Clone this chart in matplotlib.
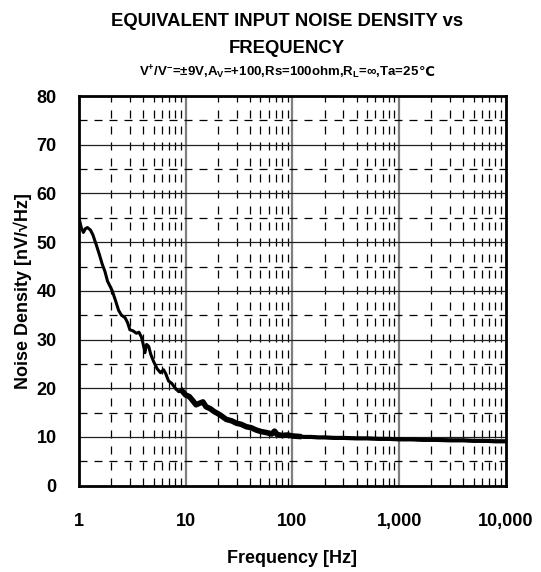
import numpy as np
import matplotlib.pyplot as plt
from matplotlib.ticker import FixedLocator, FuncFormatter, NullFormatter

plt.rcParams['font.family'] = ['Liberation Sans', 'DejaVu Sans']
plt.rcParams['font.weight'] = 'bold'
plt.rcParams['mathtext.fontset'] = 'custom'
plt.rcParams['mathtext.rm'] = 'Liberation Sans:bold'
plt.rcParams['mathtext.it'] = 'Liberation Sans:bold'
plt.rcParams['mathtext.bf'] = 'Liberation Sans:bold'

# curve
freq = [1.0, 1.05, 1.1, 1.15, 1.2, 1.28, 1.35, 1.45, 1.55, 1.65, 1.75, 1.85,
        1.95, 2.05, 2.2, 2.35, 2.5, 2.7, 2.85, 3.0, 3.2, 3.45, 3.65, 3.85,
        4.0, 4.15, 4.3, 4.5, 4.7, 5.0, 5.4, 5.8, 6.2, 6.5, 6.9, 7.4, 8.0,
        8.6, 9.2, 10, 10.8, 11.6, 12.5, 13.4, 14.5, 15.5, 17, 18.5, 20, 22,
        24, 27, 30, 33, 37, 41, 46, 51, 57, 64, 68, 72, 80, 90, 100, 115, 130,
        150, 175, 200, 250, 300, 400, 500, 650, 800, 1000, 1300, 1700, 2200,
        3000, 4000, 5000, 6500, 8000, 10000]
noise = [55.0, 53.0, 52.0, 52.8, 53.0, 52.5, 51.5, 49.5, 47.5, 45.5, 44.0, 42.0,
         41.0, 40.0, 38.0, 36.0, 35.0, 34.5, 33.5, 32.0, 31.8, 31.3, 31.5, 30.5,
         29.0, 27.3, 29.0, 28.6, 27.0, 25.5, 24.0, 23.2, 23.8, 23.0, 21.5, 21.0, 20.0,
         19.3, 19.5, 18.6, 18.3, 17.5, 16.6, 16.9, 17.2, 16.2, 15.8, 15.2, 14.8, 14.2,
         13.6, 13.3, 12.8, 12.6, 12.1, 11.9, 11.4, 11.1, 10.9, 10.6, 11.2, 10.5, 10.3, 10.4, 10.2, 10.1, 10.0,
         10.0, 9.9, 9.9, 9.8, 9.8, 9.7, 9.7, 9.6, 9.6, 9.5, 9.5, 9.4, 9.4,
         9.3, 9.3, 9.2, 9.2, 9.1, 9.1]

y_ticks = [0, 10, 20, 30, 40, 50, 60, 70, 80]
x_ticks = [1, 10, 100, 1000, 10000]

fig = plt.figure(figsize=(5.41, 5.72), dpi=100)
ax = fig.add_axes([0.146, 0.151, 0.789, 0.681])

ax.set_xscale('log')
ax.set_xlim(1, 10000)
ax.set_ylim(0, 80)

# grid
minor_x = [m * 10**d for d in range(4) for m in range(2, 10)]
for xv in minor_x:
    ax.axvline(xv, color='black', lw=0.9, dashes=(6.4, 6.4), zorder=1)
for xv in [10, 100, 1000]:
    ax.axvline(xv, color='#7f7f7f', lw=1.6, zorder=1)
for yv in range(5, 80, 10):
    ax.axhline(yv, color='black', lw=0.9, dashes=(6.4, 5.6), zorder=1)
for yv in range(10, 80, 10):
    ax.axhline(yv, color='#202020', lw=0.9, zorder=1)

f = np.array(freq)
n = np.array(noise)
ax.plot(f, n, color='black', lw=2.2, zorder=3)
band = (f >= 9) & (f <= 120)
ax.plot(f[band], n[band], color='black', lw=4.0, zorder=3)
tail = f >= 100
ax.plot(f[tail], n[tail], color='black', lw=3.0, zorder=3)

ax.xaxis.set_major_locator(FixedLocator(x_ticks))
ax.xaxis.set_minor_formatter(NullFormatter())
ax.xaxis.set_major_formatter(FuncFormatter(lambda v, p: f"{int(v):,}"))
ax.set_yticks(y_ticks)
ax.tick_params(axis='both', which='both', length=0, labelsize=13)
ax.tick_params(axis='x', pad=20)
ax.tick_params(axis='y', pad=16)

for s in ax.spines.values():
    s.set_linewidth(2)

ax.set_xlabel('Frequency [Hz]', fontsize=13, fontweight='bold', labelpad=14)
ax.set_ylabel('Noise Density [nV/√Hz]', fontsize=13, fontweight='bold', labelpad=3)

fig.text(0.531, 0.963, 'EQUIVALENT INPUT NOISE DENSITY vs', ha='center', va='center',
         fontsize=13.3, fontweight='bold')
fig.text(0.531, 0.916, 'FREQUENCY', ha='center', va='center', fontsize=13.3, fontweight='bold')

# subtitle: mathtext part + degree sign drawn with DejaVu Sans
sub1 = fig.text(0, 0.873, r'V$^{+}$/V$^{-}$=±9V,A$_{V}$=+100,Rs=100ohm,R$_{L}$=∞,Ta=25',
                ha='left', va='center', fontsize=9.5, fontweight='bold')
sub2 = fig.text(0, 0.873, '℃', ha='left', va='center', fontsize=9.5, fontweight='bold',
                family='DejaVu Sans')
r = fig.canvas.get_renderer()
w1 = sub1.get_window_extent(r).width / fig.bbox.width
w2 = sub2.get_window_extent(r).width / fig.bbox.width
x0 = 0.53 - (w1 + w2) / 2
sub1.set_x(x0)
sub2.set_x(x0 + w1)

fig.savefig('out.png', dpi=100)
